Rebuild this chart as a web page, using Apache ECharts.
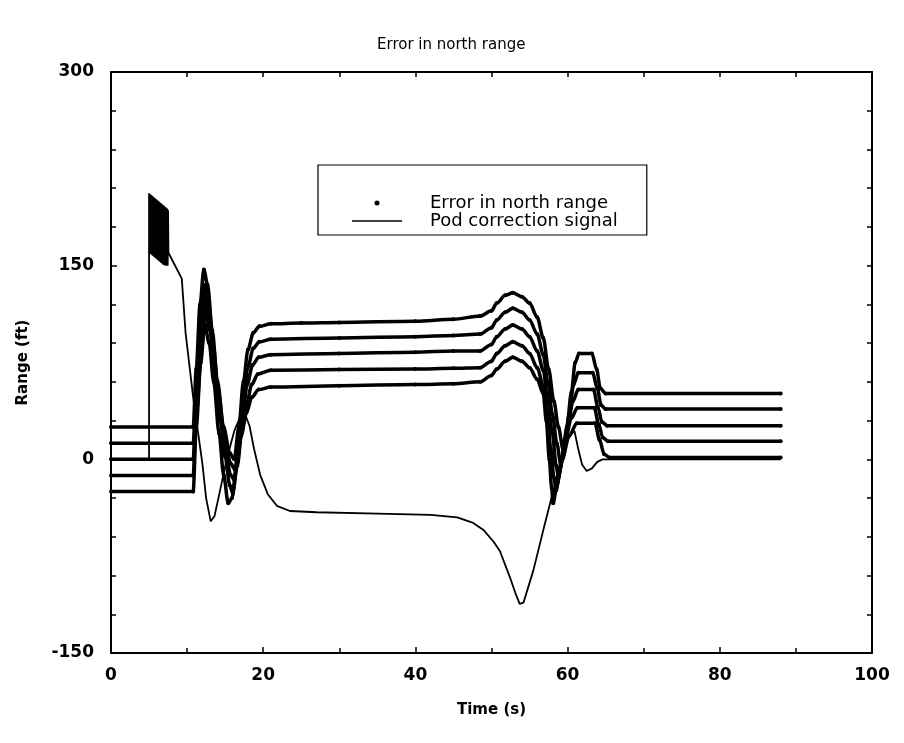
<!DOCTYPE html>
<html>
<head>
<meta charset="utf-8">
<script src="https://cdn.jsdelivr.net/npm/echarts@6/dist/echarts.min.js"></script>
<style>
html,body{margin:0;padding:0;background:#fff;}
#chart{width:904px;height:743px;}
</style>
</head>
<body>
<div id="chart"></div>
<script>
// ---- data ----
const chartTitle = 'Error in north range';
const xName = 'Time (s)';
const yName = 'Range (ft)';
const errName = 'Error in north range';
const podName = 'Pod correction signal';

const err1 = [[0,25],[10.8,25],[11.2,70],[11.7,120],[12.2,147],[12.7,135],[13.3,100],[14.0,60],[14.8,25],[15.6,5],[16.2,0],[16.8,25],[17.4,60],[18.0,85],[18.7,98],[19.5,103],[21,105],[25,105.5],[30,106],[40,107],[45,108.5],[48.5,111],[50,115],[50.7,121],[51.8,127],[52.8,129],[54,126],[55,121],[56,110],[56.8,94],[57.5,70],[58.2,45],[58.8,25],[59.4,8],[59.9,25],[60.5,52],[61.0,75],[61.5,82],[63.2,82],[63.8,70],[64.3,55],[65,51],[88,51]];
const err2 = [[0,12.5],[10.8,12.5],[11.2,55],[11.8,105],[12.3,135],[12.8,123],[13.4,90],[14.1,52],[14.9,18],[15.7,-3],[16.3,-8],[16.8,15],[17.4,48],[18.0,72],[18.7,86],[19.5,91],[21,93],[30,94],[40,95],[45,96],[48.5,97],[50,102],[50.7,108],[51.8,114],[52.8,117],[54,114],[55,108],[56,97],[56.8,81],[57.4,60],[58,35],[58.6,12],[59.1,-4],[59.6,10],[60.2,35],[60.8,58],[61.4,67],[63.3,67],[63.9,55],[64.4,42],[65,39],[88,39]];
const err3 = [[0,0],[10.8,0],[11.2,45],[11.9,95],[12.4,125],[12.9,112],[13.5,80],[14.2,42],[15.0,10],[15.7,-12],[16.2,-16],[16.7,5],[17.3,35],[17.9,58],[18.6,73],[19.4,79],[21,81],[30,82],[40,83],[45,84],[48.5,84],[50,89],[50.7,95],[51.8,101],[52.8,104],[54,101],[55,95],[56,84],[56.8,69],[57.4,45],[58.0,20],[58.5,-5],[58.8,-14],[59.3,0],[60,25],[60.7,45],[61.4,54],[63.4,54],[64,40],[64.5,29],[65.2,26],[88,26]];
const err4 = [[0,-12.5],[10.8,-12.5],[11.2,35],[11.9,85],[12.4,115],[13.0,100],[13.6,70],[14.3,32],[15.0,2],[15.6,-20],[16.0,-26],[16.6,-5],[17.2,22],[17.8,42],[18.5,58],[19.3,66],[21,69],[30,69.5],[40,70],[45,70.5],[48.5,71],[50,76],[50.7,82],[51.8,88],[52.8,91],[54,88],[55,82],[56,71],[56.8,57],[57.3,35],[57.8,8],[58.2,-14],[58.5,-24],[59.0,-8],[59.7,15],[60.5,32],[61.3,40],[63.5,40],[64.1,27],[64.6,17],[65.3,14],[88,14]];
const err5 = [[0,-25],[10.8,-25],[11.2,25],[11.8,75],[12.3,105],[12.9,90],[13.5,60],[14.2,20],[14.8,-12],[15.4,-34],[15.9,-30],[16.5,-5],[17.1,18],[17.8,36],[18.5,48],[19.4,54],[21,56],[30,57],[40,58],[45,58.5],[48.5,60],[50,65],[50.7,70],[51.8,76],[52.8,79],[54,76],[55,71],[56,62],[56.8,51],[57.2,30],[57.6,0],[57.9,-22],[58.1,-34],[58.6,-20],[59.3,0],[60.2,18],[61.2,28],[63.6,28],[64.2,15],[64.8,4],[65.5,1.5],[88,1.5]];

const pod = [[0,0],[5.0,0],[5.00,206],[5.05,160],[5.10,205.5],[5.15,159.5],[5.20,205],[5.25,159],[5.30,204.5],[5.35,158.5],[5.40,204],[5.45,158],[5.50,203.5],[5.55,157.5],[5.60,203],[5.65,157],[5.70,202.5],[5.75,156.5],[5.80,202],[5.85,156],[5.90,201.5],[5.95,155.5],[6.00,201],[6.05,155],[6.10,200.5],[6.15,154.5],[6.20,200],[6.25,154],[6.30,199.5],[6.35,153.5],[6.40,199],[6.45,153],[6.50,198.5],[6.55,152.5],[6.60,198],[6.65,152],[6.70,197.5],[6.75,151.5],[6.80,197],[6.85,151],[6.90,196.5],[6.95,150.5],[7.00,196],[7.05,150.5],[7.10,195.5],[7.15,150],[7.20,195],[7.25,150],[7.30,194.5],[7.35,150],[7.40,194],[7.45,150],[7.50,193],[7.55,160],[7.6,160],[9.3,140],[9.8,98],[10.8,48],[12,-3],[12.5,-30],[13.1,-48],[13.6,-44],[14.3,-25],[15.2,0],[16.2,22],[17.0,33],[17.6,35],[18.2,26],[18.8,8],[19.6,-12],[20.6,-27],[21.8,-36],[23.5,-40],[27,-41],[35,-42],[42,-43],[45.5,-45],[47.5,-49],[49,-55],[50.3,-64],[51.1,-71],[52.4,-91],[53.1,-103],[53.7,-112],[54.2,-111],[55.5,-86],[56.8,-55],[57.7,-34],[58.3,-20],[59.2,2],[60.2,18],[60.9,22],[61.4,8],[61.9,-4],[62.5,-9],[63.2,-7],[63.9,-2],[64.6,0],[88,0]];

const xMin = 0, xMax = 100, xStep = 20;
const yMin = -150, yMax = 300, yStep = 150;

// ---- chart ----
const FONT = 'DejaVu Sans';
const chart = echarts.init(document.getElementById('chart'), null, {renderer:'canvas'});

function errSeries(data){
  return {
    type:'line', name:errName, data:data, xAxisIndex:0, yAxisIndex:0,
    showSymbol:true, symbol:'circle', symbolSize:4,
    smooth:0.3, smoothMonotone:'x',
    itemStyle:{color:'#000'}, lineStyle:{color:'#000', width:3.5},
    emphasis:{disabled:true}, animation:false, z:3
  };
}

const mirrorAxisCommon = {
  axisLine:{show:true, onZero:false, lineStyle:{color:'#000', width:2}},
  axisTick:{show:true, inside:true, length:5, lineStyle:{color:'#000', width:1.5}},
  axisLabel:{show:false}, splitLine:{show:false}
};

chart.setOption({
  backgroundColor:'#fff',
  animation:false,
  title:{text:chartTitle, left:372, top:33,
    textStyle:{fontFamily:FONT, fontSize:15, fontWeight:'normal', color:'#000'}},
  legend:{
    left:318, top:165, orient:'vertical',
    padding:[29,29,5,34], itemGap:0,
    itemWidth:50, itemHeight:5,
    borderColor:'#000', borderWidth:1.2,
    data:[{name:errName, icon:'circle'},{name:podName, icon:'path://M0,0 H50 V1.6 H0 Z'}],
    textStyle:{fontFamily:FONT, fontSize:18, color:'#000', lineHeight:17, padding:[0,0,0,23]}
  },
  grid:{left:111, right:32, top:72, bottom:90, containLabel:false},
  xAxis:[{
    type:'value', min:xMin, max:xMax, interval:xStep, position:'bottom',
    name:xName, nameLocation:'middle', nameGap:50,
    nameTextStyle:{fontFamily:FONT, fontSize:15, fontWeight:'bold', color:'#000'},
    axisLine:{show:true, onZero:false, lineStyle:{color:'#000', width:2}},
    axisTick:{show:true, inside:true, length:6, lineStyle:{color:'#000', width:1.5}},
    minorTick:{show:true, splitNumber:2, length:5, lineStyle:{color:'#000', width:1.5}},
    axisLabel:{fontFamily:FONT, fontSize:17, fontWeight:'bold', color:'#000', margin:14},
    splitLine:{show:false}
  },{
    type:'value', min:xMin, max:xMax, interval:xStep, position:'top',
    ...mirrorAxisCommon,
    minorTick:{show:true, splitNumber:2, length:5, lineStyle:{color:'#000', width:1.5}}
  }],
  yAxis:[{
    type:'value', min:yMin, max:yMax, interval:yStep, position:'left',
    name:yName, nameLocation:'middle', nameGap:80, nameRotate:90,
    nameTextStyle:{fontFamily:FONT, fontSize:15, fontWeight:'bold', color:'#000'},
    axisLine:{show:true, onZero:false, lineStyle:{color:'#000', width:2}},
    axisTick:{show:true, inside:true, length:6, lineStyle:{color:'#000', width:1.5}},
    minorTick:{show:true, splitNumber:5, length:5, lineStyle:{color:'#000', width:1.5}},
    axisLabel:{fontFamily:FONT, fontSize:17, fontWeight:'bold', color:'#000', margin:17},
    splitLine:{show:false}
  },{
    type:'value', min:yMin, max:yMax, interval:yStep, position:'right',
    ...mirrorAxisCommon,
    minorTick:{show:true, splitNumber:5, length:5, lineStyle:{color:'#000', width:1.5}}
  }],
  series:[
    errSeries(err1), errSeries(err2), errSeries(err3), errSeries(err4), errSeries(err5),
    {
      type:'line', name:podName, data:pod, xAxisIndex:0, yAxisIndex:0,
      showSymbol:false, symbol:'none', sampling:null,
      itemStyle:{color:'#000'}, lineStyle:{color:'#000', width:1.8},
      emphasis:{disabled:true}, z:2
    }
  ]
});
</script>
</body>
</html>
